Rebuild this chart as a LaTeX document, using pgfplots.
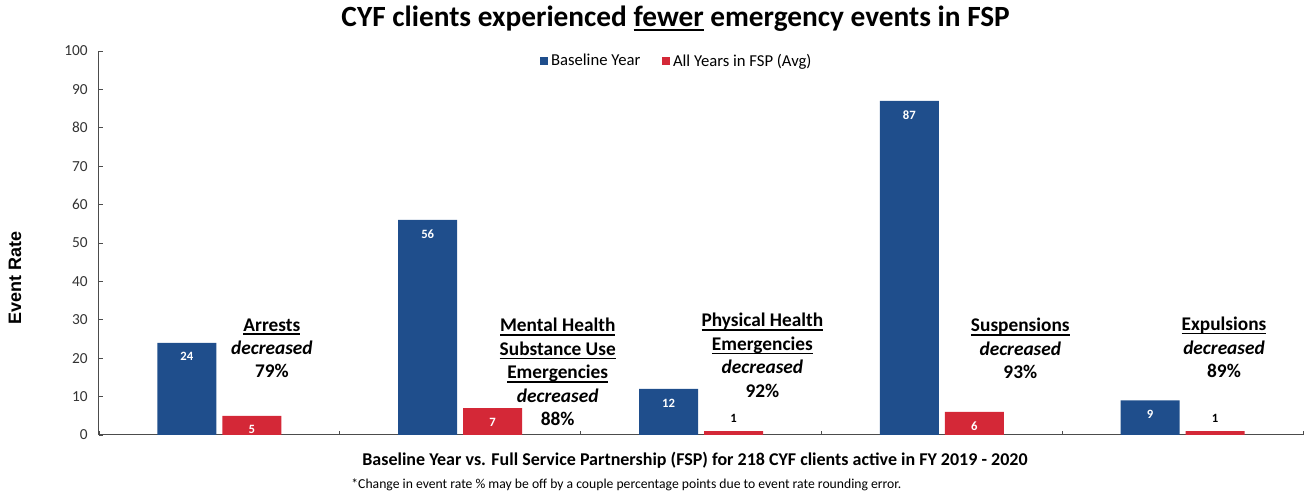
\documentclass[border=0pt]{standalone}
\usepackage{fontspec}
\setmainfont{Carlito}
\newfontfamily\arialfont{Liberation Sans}
\usepackage{pgfplots}
\pgfplotsset{compat=1.18}
\definecolor{baseblue}{HTML}{1F4E8C}
\definecolor{fspred}{HTML}{D42837}
% underline with a thicker rule
\newcommand\ul[1]{\leavevmode\setbox0\hbox{#1}\rlap{\vrule height -1.8pt depth 2.9pt width \wd0}\box0\relax}

\begin{document}
\begin{tikzpicture}[
  annot/.style={anchor=north, align=center, inner sep=0pt,
    font=\bfseries\fontsize{14.5}{17.6}\selectfont},
]
\path[use as bounding box] (-74.25pt,-47.25pt) rectangle (906pt,326.25pt);
\begin{axis}[
  scale only axis, width=903pt, height=288pt,
  xmin=-0.5, xmax=4.5, ymin=0, ymax=100,
  ybar=4.5pt, bar width=44.25pt,
  axis x line=bottom, axis y line=left,
  axis line style={black!70, line width=0.75pt, -},
  xtick={-0.5,0.5,...,4.5}, xticklabels={},
  ytick={0,10,...,100},
  tick align=inside, major tick length=3pt,
  tick style={black!70, line width=0.6pt},
  yticklabel style={font=\fontsize{11.5}{12}\selectfont, text=black!80, xshift=-5pt},
  /pgf/number format/assume math mode=true,
  clip=false,
  legend style={at={(0.48,0.974)}, anchor=center, draw=none, fill=none,
    legend columns=2, font=\fontsize{12.5}{14}\selectfont,
    /tikz/every even column/.append style={column sep=14pt}},
  nodes near coords,
  visualization depends on={y \as \rawy},
  every node near coord/.append style={font=\bfseries\fontsize{9.5}{10}\selectfont,
    anchor=center,
    /utils/exec={\ifdim\rawy pt<3pt \def\nncol{black}\else\def\nncol{white}\fi},
    text=\nncol, yshift={(\rawy<3)*20.25pt-10.5pt}},
]
\addplot[fill=baseblue, draw=none,
  legend image code/.code={\fill[baseblue] (0pt,-3.25pt) rectangle (6.5pt,3.25pt);}]
  coordinates {(0,24) (1,56) (2,12) (3,87) (4,9)};
\addlegendentry{Baseline Year}
\addplot[fill=fspred, draw=none,
  legend image code/.code={\fill[fspred] (0pt,-3.25pt) rectangle (6.5pt,3.25pt);}]
  coordinates {(0,5) (1,7) (2,1) (3,6) (4,1)};
\addlegendentry{All Years in FSP (Avg)}

\node[annot] at (axis cs:0.218,30.4) {\ul{Arrests}\\\textit{decreased}\\79\%};
\node[annot] at (axis cs:1.405,30.5) {\ul{Mental Health}\\\ul{Substance Use}\\\ul{Emergencies}\\\textit{decreased}\\88\%};
\node[annot] at (axis cs:2.255,31.8) {\ul{Physical Health}\\\ul{Emergencies}\\\textit{decreased}\\92\%};
\node[annot] at (axis cs:3.326,30.5) {\ul{Suspensions}\\\textit{decreased}\\93\%};
\node[annot] at (axis cs:4.172,30.8) {\ul{Expulsions}\\\textit{decreased}\\89\%};

\node[font=\bfseries\fontsize{22}{24}\selectfont] at (rel axis cs:0.479,1.083)
  {CYF clients experienced \ul{fewer} emergency events in FSP};
\node[rotate=90, font=\arialfont\bfseries\fontsize{13.5}{15}\selectfont] at (rel axis cs:-0.0698,0.41) {Event Rate};
\node[font=\bfseries\fontsize{13.5}{15}\selectfont] at (rel axis cs:0.495,-0.065)
  {Baseline Year vs. Full Service Partnership (FSP) for 218 CYF clients active in FY 2019 - 2020};
\node[font=\fontsize{10.25}{11}\selectfont] at (rel axis cs:0.438,-0.130)
  {*Change in event rate \% may be off by a couple percentage points due to event rate rounding error.};
\end{axis}
\end{tikzpicture}
\end{document}
